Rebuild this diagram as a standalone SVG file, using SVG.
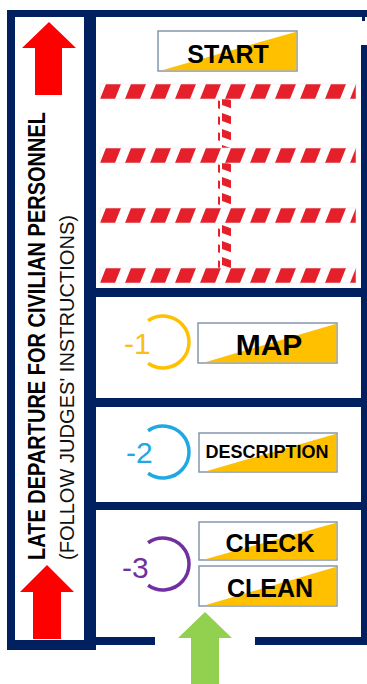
<svg xmlns="http://www.w3.org/2000/svg" width="367" height="684" viewBox="0 0 367 684">
<style>
.navy{fill:#002060}
.lbl{fill:#fff;stroke:#8496AE;stroke-width:1.5}
.tri{fill:#FFC000}
.lt{font-family:"Liberation Sans",Arial,sans-serif;font-weight:bold;fill:#000;text-anchor:middle}
.num{font-family:"Liberation Sans",Arial,sans-serif;font-size:30px}
.arc{fill:none;stroke-width:3.5}
.red{fill:#FF0000}
.green{fill:#92D050}
</style>
<defs>
<pattern id="tapeH" width="25" height="15" patternUnits="userSpaceOnUse">
<rect width="25" height="15" fill="#fff"/>
<polygon points="0,15 15,15 21,0 6,0" fill="#E5202B"/>
</pattern>
<pattern id="tapeV" width="13" height="16" patternUnits="userSpaceOnUse">
<polygon points="1,1 12,5 12,13 1,9" fill="#E5202B"/>
</pattern>
</defs>
<rect width="367" height="684" fill="#fff"/>

<g id="frame">
<rect class="navy" x="7" y="10" width="360" height="7"/>
<rect class="navy" x="7" y="10" width="8" height="640"/>
<rect class="navy" x="84" y="10" width="12" height="640"/>
<rect class="navy" x="7" y="640" width="89" height="10"/>
<rect class="navy" x="361" y="45" width="6" height="600"/>
<rect class="navy" x="362" y="17" width="3" height="4"/>
<rect class="navy" x="96" y="288" width="265" height="9"/>
<rect class="navy" x="96" y="398" width="265" height="9"/>
<rect class="navy" x="96" y="502" width="265" height="8"/>
<rect class="navy" x="96" y="637" width="59" height="8"/>
<rect class="navy" x="255" y="637" width="112" height="8"/>
</g>

<g id="late-departure">
<text transform="translate(45,560) rotate(-90)" font-family="Liberation Sans,Arial,sans-serif" font-weight="bold" font-size="23" textLength="448" lengthAdjust="spacingAndGlyphs" fill="#000">LATE DEPARTURE FOR CIVILIAN PERSONNEL</text>
<text transform="translate(74,560) rotate(-90)" font-family="Liberation Sans,Arial,sans-serif" font-size="20" textLength="345" lengthAdjust="spacingAndGlyphs" fill="#111">(FOLLOW JUDGES' INSTRUCTIONS)</text>
</g>

<g id="start">
<rect class="lbl" x="158" y="31" width="139" height="40"/>
<polygon class="tri" points="162,70.3 296.3,31.7 296.3,70.3"/>
<text class="lt" x="228" y="63" font-size="25">START</text>
</g>

<g id="tape-area">
<rect x="218" y="99" width="13" height="169" fill="url(#tapeV)"/>
<g transform="translate(100,84)"><rect width="256" height="15" fill="url(#tapeH)" stroke="#e6e6e6" stroke-width="0.6"/></g>
<g transform="translate(100,148)"><rect width="256" height="15" fill="url(#tapeH)" stroke="#e6e6e6" stroke-width="0.6"/></g>
<g transform="translate(100,208)"><rect width="256" height="15" fill="url(#tapeH)" stroke="#e6e6e6" stroke-width="0.6"/></g>
<g transform="translate(100,268)"><rect width="256" height="15" fill="url(#tapeH)" stroke="#e6e6e6" stroke-width="0.6"/></g>
</g>

<g id="map-step">
<path class="arc" stroke="#FFC000" d="M148.1,320.7 A26,26 0 1 1 148.1,363.3"/>
<text class="num" x="124" y="354" fill="#F8BE1C">-1</text>
<rect class="lbl" x="198" y="323" width="139" height="40"/>
<polygon class="tri" points="205,362.3 336.3,323.7 336.3,362.3"/>
<text class="lt" x="269" y="355" font-size="30">MAP</text>
</g>

<g id="description-step">
<path class="arc" stroke="#1FA8E2" d="M148.1,430.7 A26,26 0 1 1 148.1,473.3"/>
<text class="num" x="126" y="463" fill="#1FA8E2">-2</text>
<rect class="lbl" x="199" y="433" width="138" height="39"/>
<polygon class="tri" points="206,471.3 336.3,433.7 336.3,471.3"/>
<text class="lt" x="267" y="458" font-size="18">DESCRIPTION</text>
</g>

<g id="check-clean-step">
<path class="arc" stroke="#7030A0" d="M148.1,542.7 A26,26 0 1 1 148.1,585.3"/>
<text class="num" x="122" y="578" fill="#7030A0">-3</text>
<rect class="lbl" x="199" y="522" width="138" height="38"/>
<polygon class="tri" points="205,559.3 336.3,522.7 336.3,559.3"/>
<text class="lt" x="270" y="552" font-size="25">CHECK</text>
<rect class="lbl" x="199" y="566" width="138" height="40"/>
<polygon class="tri" points="205,605.3 336.3,566.7 336.3,605.3"/>
<text class="lt" x="270" y="597" font-size="25">CLEAN</text>
</g>

<g id="connectors">
<polygon class="red" points="49,22 76,48 62,48 62,95 35,95 35,48 22,48"/>
<polygon class="red" points="47,565 74,592 61,592 61,639 33,639 33,592 20,592"/>
<polygon class="green" points="205,612 232,638 219,638 219,684 191,684 191,638 178,638"/>
</g>
</svg>
